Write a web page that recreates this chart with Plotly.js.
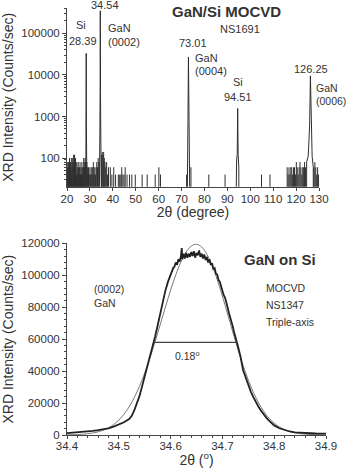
<!DOCTYPE html>
<html>
<head>
<meta charset="utf-8">
<script src="https://cdn.plot.ly/plotly-3.0.1.min.js"></script>
<style>
  html, body { margin: 0; padding: 0; background: #fff; }
  #chart { width: 347px; height: 468px; }
</style>
</head>
<body>
<div id="chart"></div>
<script>
// ---- Survey scan (2θ = 20..130°, log intensity) ----
// Background count spikes
const noiseX = [20.1, 20.3, 20.5, 20.7, 20.9, 21.1, 21.3, 21.5, 21.7, 21.9, 22.1, 22.3, 22.5, 22.7, 22.9,
  23.1, 23.3, 23.5, 23.7, 23.9, 24.1, 24.3, 24.5, 24.7, 24.9, 25.1, 25.3, 25.5, 25.7, 25.9, 26.1, 26.3,
  26.5, 26.7, 26.9, 27.1, 27.3, 27.5, 27.7, 27.9, 28.1,
  28.7, 28.9, 29.1, 29.4, 29.7, 30.0, 30.3, 30.6, 30.9, 31.2, 31.5, 31.8, 32.1, 32.4, 32.7, 33.0, 33.3,
  33.6, 33.9,
  35.1, 35.4, 35.7, 36.0, 36.3, 36.6, 36.9, 37.3, 37.7, 38.1,
  38.9, 39.6, 40.4, 41.2, 42.4, 43.0, 43.5, 43.9, 44.4, 44.9, 45.4, 46.2, 47.3, 48.3, 49.8,
  52.8, 55.0, 58.5, 60.1, 60.8,
  72.2, 74.1, 81.9, 89.0, 104.9, 108.6,
  116.1, 116.5, 116.9, 117.3, 117.7, 118.1, 118.5, 118.9, 119.3, 119.7, 120.1, 120.5, 120.9, 121.3,
  121.7, 122.1, 122.5, 122.9, 123.3, 123.7, 124.1,
  127.8, 128.2, 128.6, 129.0, 129.4, 129.8];
const noiseY = [60, 80, 40, 80, 60, 100, 40, 80, 60, 100, 40, 80, 100, 60, 120,
  80, 120, 60, 100, 80, 40, 80, 60, 40, 80, 60, 40, 60, 80, 40, 60, 40,
  80, 60, 40, 60, 100, 80, 60, 100, 80,
  80, 60, 40, 60, 40, 60, 40, 60, 40, 60, 80, 40, 60, 40, 60, 80, 60,
  100, 80,
  120, 140, 120, 140, 100, 80, 60, 80, 40, 60,
  60, 40, 60, 40, 40, 40, 40, 60, 40, 40, 60, 40, 40, 40, 40,
  40, 40, 40, 60, 40,
  40, 60, 40, 40, 40, 40,
  60, 40, 60, 40, 60, 60, 40, 60, 60, 40, 80, 60, 40, 60,
  80, 60, 40, 60, 60, 80, 60,
  60, 80, 60, 40, 60, 40];

// Diffraction peaks: positions, apex intensities and flank points
const peakCenters = [28.39, 34.54, 73.01, 94.51, 126.25];
const peakHeights = [33000, 350000, 27000, 1560, 9500];
const peakLeft = [
  [[28.2, 80], [28.32, 600]],
  [[34.1, 100], [34.35, 400], [34.46, 4000]],
  [[72.5, 60], [72.8, 800]],
  [[93.8, 60], [94.05, 90], [94.3, 120]],
  [[124.6, 80], [125.3, 110], [125.9, 600]]
];
const peakRight = [
  [[28.46, 600], [28.6, 80]],
  [[34.62, 4000], [34.75, 400], [35.0, 120]],
  [[73.22, 800], [73.6, 60]],
  [[94.7, 120], [95.0, 60]],
  [[126.6, 500], [127.0, 110], [127.5, 60]]
];
const BASE = 10; // zero-count floor, sits below the visible log range

// ---- (0002) triple-axis scan, 2θ = 34.4..34.9° ----
const scanX = [34.40, 34.41, 34.42, 34.43, 34.44, 34.45, 34.46, 34.47, 34.48, 34.49, 34.50, 34.51, 34.52,
  34.525, 34.53, 34.535, 34.54, 34.545, 34.55, 34.555, 34.56, 34.565, 34.57, 34.575, 34.58, 34.585,
  34.59, 34.595, 34.60, 34.605,
  34.6075, 34.610, 34.6125, 34.615, 34.6175, 34.620, 34.6215, 34.6225, 34.625, 34.6275, 34.630, 34.6325,
  34.635, 34.6375, 34.640, 34.6425, 34.645, 34.6475, 34.650, 34.6525, 34.655, 34.6575, 34.660, 34.6625,
  34.665, 34.6675, 34.670, 34.6725, 34.675, 34.6775, 34.680, 34.6825, 34.685, 34.6875, 34.690, 34.6925,
  34.695, 34.6975, 34.700, 34.7025, 34.705, 34.7075, 34.710, 34.7125, 34.715, 34.7175, 34.720, 34.7225,
  34.725, 34.7275, 34.730, 34.735, 34.740, 34.745, 34.750, 34.755, 34.760, 34.765, 34.770, 34.775,
  34.780, 34.785, 34.790, 34.800, 34.810, 34.820, 34.830, 34.840, 34.850, 34.860, 34.880, 34.900];
const scanY = [1200, 1400, 1600, 1900, 2200, 2600, 3000, 3500, 4200, 5200, 6500, 8000, 10000,
  12000, 15500, 19500, 24500, 30500, 36500, 43000, 49000, 55500, 61500, 68500, 76000, 83500,
  90500, 96000, 101000, 104500,
  105500, 108000, 106500, 110000, 108500, 112000, 117000, 110000, 113500, 110500, 114000, 111000,
  113500, 111500, 114500, 112000, 115000, 111000, 114000, 112500, 115500, 111500, 113500, 110500,
  113000, 109500, 111500, 108000, 110000, 106500, 107500, 104000, 104500, 101000, 100500, 97000,
  96000, 92500, 91000, 87500, 86000, 82000, 80000, 76500, 74000, 70500, 68000, 64500,
  62000, 58500, 55500, 49000, 40500, 35500, 31000, 27000, 23500, 20300, 17500, 15000,
  12700, 10700, 9000, 6000, 4200, 3000, 2200, 1700, 1400, 1200, 950, 800];

// Fitted profile
const fitX = [34.40, 34.41, 34.42, 34.43, 34.44, 34.45, 34.46, 34.47, 34.48, 34.49, 34.50, 34.51, 34.52,
  34.53, 34.54, 34.55, 34.56, 34.57, 34.58, 34.59, 34.60, 34.61, 34.62, 34.63, 34.64, 34.65, 34.66,
  34.67, 34.68, 34.69, 34.70, 34.71, 34.72, 34.73, 34.74, 34.75, 34.76, 34.77, 34.78, 34.79, 34.80,
  34.81, 34.82, 34.83, 34.84, 34.85, 34.86, 34.87, 34.88, 34.89, 34.90];
const fitY = [97, 170, 290, 486, 793, 1265, 1980, 3017, 4500, 6555, 9340, 13000, 17690,
  23500, 30530, 38770, 48100, 58330, 69130, 80070, 90640, 100270, 108410, 114550, 118290, 119400, 117650,
  113140, 106180, 97250, 86920, 75820, 64520, 53600, 43450, 34380, 26530, 19990, 14700, 10540, 7390,
  5050, 3360, 2190, 1390, 860, 520, 300, 170, 95, 50];

// Full width at half maximum marker
const fwhmX = [34.568, 34.729];
const fwhmY = [58000, 58000];

// ---- build the survey line: spikes and peaks separated by gaps ----
const sx = [], sy = [];
noiseX.forEach((x, i) => { sx.push(x, x, null); sy.push(BASE, noiseY[i], null); });
peakCenters.forEach((c, i) => {
  const L = peakLeft[i], R = peakRight[i];
  sx.push(L[0][0]); sy.push(BASE);
  L.forEach(p => { sx.push(p[0]); sy.push(p[1]); });
  sx.push(c); sy.push(peakHeights[i]);
  R.forEach(p => { sx.push(p[0]); sy.push(p[1]); });
  sx.push(R[R.length - 1][0]); sy.push(BASE);
  sx.push(null); sy.push(null);
});

const FONT = 'Liberation Sans, Arial, Helvetica, sans-serif';
const TXT = '#333';
const LINE = '#444';

const traces = [
  { x: sx, y: sy, xaxis: 'x', yaxis: 'y', type: 'scatter', mode: 'lines',
    line: { color: '#2e2e2e', width: 1 }, hoverinfo: 'skip' },
  { x: fitX, y: fitY, xaxis: 'x2', yaxis: 'y2', type: 'scatter', mode: 'lines',
    line: { color: '#6a6a6a', width: 0.9, shape: 'spline' }, hoverinfo: 'skip' },
  { x: scanX, y: scanY, xaxis: 'x2', yaxis: 'y2', type: 'scatter', mode: 'lines',
    line: { color: '#222', width: 1.8 }, hoverinfo: 'skip' },
  { x: fwhmX, y: fwhmY, xaxis: 'x2', yaxis: 'y2', type: 'scatter', mode: 'lines',
    line: { color: '#444', width: 1.2 }, hoverinfo: 'skip' }
];

const W = 347, H = 468;
// label placed at pixel position (px, py) of the figure
function label(text, px, py, opt) {
  opt = opt || {};
  return {
    text: text, xref: 'paper', yref: 'paper', x: px / W, y: 1 - py / H,
    xanchor: opt.anchor || 'center', yanchor: 'middle', showarrow: false,
    font: { family: FONT, size: opt.size || 11, color: TXT }
  };
}

const annotations = [
  label('34.54', 105, 5.5),
  label('Si', 81, 25),
  label('28.39', 82.5, 41),
  label('GaN', 106, 28, { anchor: 'left' }),
  label('(0002)', 106, 42, { anchor: 'left' }),
  label('<b>GaN/Si MOCVD</b>', 226, 11.5, { size: 15 }),
  label('NS1691', 240, 28.5),
  label('73.01', 193, 43),
  label('GaN', 193, 58, { anchor: 'left' }),
  label('(0004)', 193, 71, { anchor: 'left' }),
  label('Si', 238, 82),
  label('94.51', 238, 97),
  label('126.25', 310.5, 69),
  label('GaN', 314, 88, { anchor: 'left', size: 10.5 }),
  label('(0006)', 314, 101, { anchor: 'left', size: 10.5 }),

  label('<b>GaN on Si</b>', 280, 259, { size: 15 }),
  label('(0002)', 92, 289, { anchor: 'left', size: 10.5 }),
  label('GaN', 92, 303, { anchor: 'left', size: 10.5 }),
  label('MOCVD', 264, 288, { anchor: 'left', size: 10.5 }),
  label('NS1347', 264, 305, { anchor: 'left', size: 10.5 }),
  label('Triple-axis', 264, 321.5, { anchor: 'left', size: 10.5 }),
  label('0.18<sup>o</sup>', 188, 355, { size: 10.5 })
];

const tickFont = { family: FONT, size: 11.5, color: TXT };
const titleFont = { family: FONT, size: 14, color: TXT };

const layout = {
  width: W, height: H,
  margin: { l: 0, r: 0, t: 0, b: 0 },
  paper_bgcolor: '#fff', plot_bgcolor: '#fff',
  showlegend: false,
  font: { family: FONT, color: TXT },
  xaxis: {
    domain: [67 / W, 319 / W], range: [20, 130], tick0: 20, dtick: 10,
    ticks: 'outside', ticklen: 3, tickcolor: LINE, showline: true, linecolor: LINE, linewidth: 1,
    ticklabelstandoff: -2,
    showgrid: false, zeroline: false, tickfont: tickFont, anchor: 'y',
    title: { text: '2θ (degree)', font: titleFont, standoff: 2 }
  },
  yaxis: {
    domain: [1 - 186.7 / H, 1 - 8 / H], type: 'log', range: [1.31, 5.61], dtick: 1, tickformat: 'd',
    ticks: 'outside', ticklen: 4, tickcolor: LINE, showline: true, linecolor: LINE, linewidth: 1,
    minor: { ticks: 'outside', ticklen: 2, tickcolor: LINE, dtick: 'D1' },
    showgrid: false, zeroline: false, tickfont: tickFont, anchor: 'x',
    title: { text: 'XRD Intensity (Counts/sec)', font: titleFont, standoff: 4 }
  },
  xaxis2: {
    domain: [67 / W, 326 / W], range: [34.4, 34.9], tick0: 34.4, dtick: 0.1, tickformat: '.1f',
    ticks: 'outside', ticklen: 3, tickcolor: LINE, showline: true, linecolor: LINE, linewidth: 1,
    ticklabelstandoff: -3,
    minor: { ticks: 'outside', ticklen: 2, tickcolor: LINE, dtick: 0.02 },
    showgrid: false, zeroline: false, tickfont: tickFont, anchor: 'y2',
    title: { text: '2θ (<sup>o</sup>)', font: titleFont, standoff: 3 }
  },
  yaxis2: {
    domain: [1 - 435 / H, 1 - 243.3 / H], range: [0, 120000], dtick: 20000, tickformat: 'd',
    ticks: 'outside', ticklen: 4, tickcolor: LINE, showline: true, linecolor: LINE, linewidth: 1,
    minor: { ticks: 'outside', ticklen: 2, tickcolor: LINE, dtick: 4000 },
    showgrid: false, zeroline: false, tickfont: tickFont, anchor: 'x2',
    title: { text: 'XRD Intensity (Counts/sec)', font: titleFont, standoff: 4 }
  },
  annotations: annotations
};

Plotly.newPlot('chart', traces, layout, { staticPlot: true, displayModeBar: false });
</script>
</body>
</html>
